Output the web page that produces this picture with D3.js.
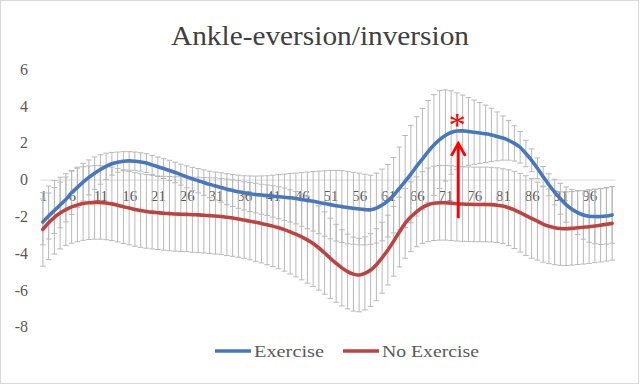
<!DOCTYPE html>
<html>
<head>
<meta charset="utf-8">
<script src="https://cdn.jsdelivr.net/npm/d3@7"></script>
<style>
    body { margin: 0; background: #fff; }
    .chart text { font-family: "Liberation Serif", "DejaVu Serif", serif; }
</style>
</head>
<body>
<div class="chart"></div>
<script>
// categories are the 100 time points of the cycle
var categories = d3.range(1, 101);
var xTickLabels = [1, 6, 11, 16, 21, 26, 31, 36, 41, 46, 51, 56, 61, 66, 71, 76, 81, 86, 91, 96];
var yTicks = [6, 4, 2, 0, -2, -4, -6, -8];
var seriesNames = ['Exercise', 'No Exercise'];

var exerciseMean = [
    -2.30, -1.98, -1.68, -1.38, -1.08, -0.72, -0.42, -0.14, 0.12, 0.35,
    0.55, 0.72, 0.86, 0.95, 1.00, 1.02, 1.00, 0.96, 0.90, 0.80,
    0.70, 0.60, 0.50, 0.39, 0.27, 0.15, 0.04, -0.06, -0.16, -0.26,
    -0.35, -0.43, -0.52, -0.59, -0.66, -0.72, -0.77, -0.81, -0.84, -0.87,
    -0.90, -0.93, -0.96, -0.99, -1.03, -1.08, -1.13, -1.18, -1.24, -1.30,
    -1.36, -1.42, -1.47, -1.52, -1.56, -1.60, -1.63, -1.64, -1.55, -1.38,
    -1.15, -0.85, -0.48, -0.10, 0.30, 0.72, 1.12, 1.52, 1.88, 2.18,
    2.40, 2.56, 2.64, 2.65, 2.62, 2.58, 2.54, 2.49, 2.43, 2.35,
    2.26, 2.14, 1.97, 1.76, 1.42, 1.05, 0.62, 0.16, -0.28, -0.68,
    -1.04, -1.36, -1.61, -1.79, -1.92, -1.99, -2.01, -2.01, -1.98, -1.92
];
var exerciseSd = [
    1.25, 1.25, 1.25, 1.24, 1.22, 1.18, 1.10, 1.02, 0.95, 0.88,
    0.80, 0.72, 0.62, 0.55, 0.52, 0.50, 0.50, 0.50, 0.51, 0.52,
    0.53, 0.54, 0.55, 0.56, 0.57, 0.60, 0.63, 0.66, 0.69, 0.72,
    0.76, 0.80, 0.84, 0.87, 0.90, 0.93, 0.97, 1.00, 1.04, 1.08,
    1.14, 1.20, 1.26, 1.32, 1.38, 1.46, 1.54, 1.62, 1.70, 1.78,
    1.86, 1.92, 1.96, 1.97, 1.96, 1.95, 1.92, 1.88, 1.90, 1.95,
    1.97, 2.05, 2.25, 2.50, 2.65, 2.70, 2.75, 2.78, 2.74, 2.66,
    2.48, 2.27, 2.08, 1.95, 1.84, 1.75, 1.66, 1.56, 1.45, 1.33,
    1.20, 1.08, 0.96, 0.86, 0.72, 0.62, 0.56, 0.55, 0.60, 0.70,
    0.84, 0.96, 1.08, 1.20, 1.32, 1.42, 1.48, 1.52, 1.53, 1.54
];
var noExerciseMean = [
    -2.71, -2.35, -2.05, -1.82, -1.63, -1.48, -1.38, -1.30, -1.26, -1.24,
    -1.24, -1.27, -1.32, -1.39, -1.47, -1.55, -1.62, -1.68, -1.73, -1.77,
    -1.80, -1.83, -1.85, -1.87, -1.88, -1.89, -1.91, -1.92, -1.94, -1.96,
    -1.98, -2.01, -2.05, -2.09, -2.14, -2.20, -2.26, -2.32, -2.39, -2.46,
    -2.53, -2.62, -2.72, -2.84, -2.97, -3.11, -3.28, -3.48, -3.72, -3.99,
    -4.28, -4.55, -4.80, -5.00, -5.14, -5.19, -5.10, -4.92, -4.63, -4.25,
    -3.83, -3.35, -2.85, -2.38, -2.02, -1.75, -1.52, -1.37, -1.29, -1.26,
    -1.26, -1.28, -1.31, -1.33, -1.34, -1.35, -1.35, -1.35, -1.36, -1.39,
    -1.44, -1.53, -1.65, -1.80, -1.96, -2.11, -2.26, -2.42, -2.54, -2.62,
    -2.66, -2.67, -2.65, -2.62, -2.59, -2.56, -2.52, -2.48, -2.43, -2.38
];
var noExerciseSd = [
    2.00, 2.00, 2.00, 1.95, 1.95, 1.98, 2.00, 2.00, 2.00, 2.00,
    2.00, 2.00, 2.00, 2.00, 2.00, 2.00, 2.00, 2.00, 2.00, 2.00,
    2.00, 2.01, 2.02, 2.02, 2.03, 2.03, 2.04, 2.05, 2.05, 2.06,
    2.07, 2.07, 2.08, 2.08, 2.08, 2.08, 2.10, 2.12, 2.14, 2.17,
    2.20, 2.23, 2.26, 2.29, 2.32, 2.34, 2.35, 2.33, 2.29, 2.24,
    2.18, 2.12, 2.07, 2.03, 2.01, 2.00, 1.99, 1.98, 1.96, 1.93,
    1.90, 1.90, 1.90, 1.90, 1.90, 1.90, 1.95, 2.00, 2.02, 2.03,
    2.03, 2.03, 2.03, 2.03, 2.03, 2.03, 2.03, 2.03, 2.03, 2.03,
    2.03, 2.06, 2.10, 2.14, 2.17, 2.17, 2.12, 2.07, 2.03, 2.01,
    2.00, 2.00, 2.00, 2.00, 2.00, 2.00, 2.00, 2.00, 2.00, 2.00
];

// significance marker: category position and the value span of the arrow
var markerCategory = 73.25;
var markerFrom = -2.1;
var markerTo = 1.97;

(function () {

    var chart = {

        width: 640,
        height: 385,

        plotLeft: 40,
        plotRight: 615,
        plotTop: 69.3,
        plotBottom: 326.7,

        font: '"Liberation Serif", "DejaVu Serif", serif',
        colors: ['#4677bf', '#be4340'],
        barColor: '#b8b8b8',
        textColor: '#595959',

        svg: null,
        x: null,
        y: null,

        // one error bar (line + two caps) per category
        drawErrorBars: function (mean, sd) {
            var x = this.x, y = this.y;
            var g = this.svg.append('g')
                .attr('stroke', this.barColor)
                .attr('stroke-width', 1)
                .attr('fill', 'none');

            var bars = g.selectAll('g')
                .data(categories)
                .enter().append('g');

            bars.append('line')
                .attr('x1', function (d) { return x(d); })
                .attr('x2', function (d) { return x(d); })
                .attr('y1', function (d, i) { return y(mean[i] - sd[i]); })
                .attr('y2', function (d, i) { return y(mean[i] + sd[i]); });

            bars.append('line')
                .attr('x1', function (d) { return x(d) - 2.8; })
                .attr('x2', function (d) { return x(d) + 2.8; })
                .attr('y1', function (d, i) { return y(mean[i] + sd[i]); })
                .attr('y2', function (d, i) { return y(mean[i] + sd[i]); });

            bars.append('line')
                .attr('x1', function (d) { return x(d) - 2.8; })
                .attr('x2', function (d) { return x(d) + 2.8; })
                .attr('y1', function (d, i) { return y(mean[i] - sd[i]); })
                .attr('y2', function (d, i) { return y(mean[i] - sd[i]); });
        },

        drawLine: function (mean, color) {
            var x = this.x, y = this.y;
            var line = d3.line()
                .x(function (d) { return x(d); })
                .y(function (d, i) { return y(mean[i]); })
                .curve(d3.curveCatmullRom.alpha(0.5));

            this.svg.append('path')
                .datum(categories)
                .attr('d', line)
                .attr('fill', 'none')
                .attr('stroke', color)
                .attr('stroke-width', 3.6)
                .attr('stroke-linejoin', 'round')
                .attr('stroke-linecap', 'round');
        },

        init: function () {
            var self = this;

            this.svg = d3.select('.chart').append('svg')
                .attr('width', this.width)
                .attr('height', this.height);

            // chart frame
            this.svg.append('rect')
                .attr('x', 0.5).attr('y', 0.5)
                .attr('width', this.width - 2).attr('height', this.height - 2)
                .attr('fill', '#fff')
                .attr('stroke', '#d9d9d9');

            this.x = d3.scaleLinear()
                .domain([0.5, categories.length + 0.5])
                .range([this.plotLeft, this.plotRight]);

            this.y = d3.scaleLinear()
                .domain([-8, 6])
                .range([this.plotBottom, this.plotTop]);

            // title
            this.svg.append('text')
                .attr('x', this.width / 2)
                .attr('y', 45)
                .attr('text-anchor', 'middle')
                .attr('font-family', this.font)
                .attr('font-size', 27)
                .attr('fill', '#404040')
                .attr('textLength', 298)
                .attr('lengthAdjust', 'spacingAndGlyphs')
                .text('Ankle-eversion/inversion');

            // value axis, labels only
            var yAxis = this.svg.append('g')
                .attr('transform', 'translate(' + this.plotLeft + ',0)')
                .call(d3.axisLeft(this.y).tickValues(yTicks).tickSize(0).tickPadding(12)
                    .tickFormat(function (d) { return d < 0 ? '-' + Math.abs(d) : d; }));
            yAxis.attr('font-family', this.font).attr('font-size', 16);
            yAxis.select('.domain').remove();
            yAxis.selectAll('text')
                .attr('fill', this.textColor);

            // category axis crosses at zero
            var xAxis = this.svg.append('g')
                .attr('transform', 'translate(0,' + this.y(0) + ')')
                .call(d3.axisBottom(this.x).tickValues(xTickLabels).tickSize(0).tickSizeOuter(0).tickPadding(11));
            xAxis.attr('font-family', this.font).attr('font-size', 15);
            xAxis.select('.domain').attr('stroke', '#d9d9d9');
            xAxis.selectAll('text')
                .attr('fill', this.textColor);

            this.drawErrorBars(exerciseMean, exerciseSd);
            this.drawErrorBars(noExerciseMean, noExerciseSd);
            this.drawLine(exerciseMean, this.colors[0]);
            this.drawLine(noExerciseMean, this.colors[1]);

            // arrow + asterisk
            var mx = this.x(markerCategory);
            var tip = this.y(markerTo);
            this.svg.append('line')
                .attr('x1', mx).attr('x2', mx)
                .attr('y1', this.y(markerFrom)).attr('y2', tip + 1)
                .attr('stroke', '#ff0000')
                .attr('stroke-width', 2.8);
            this.svg.append('path')
                .attr('d', 'M' + (mx - 7) + ',' + (tip + 12.5) + 'L' + mx + ',' + tip + 'L' + (mx + 7) + ',' + (tip + 12.5))
                .attr('fill', 'none')
                .attr('stroke', '#ff0000')
                .attr('stroke-width', 2.8);
            this.svg.append('text')
                .attr('x', mx - 1)
                .attr('y', tip - 7)
                .attr('text-anchor', 'middle')
                .attr('font-family', this.font)
                .attr('font-size', 34)
                .attr('fill', '#ff0000')
                .text('*');

            // legend
            var legendX = [215, 343];
            var legendLen = [70, 97];
            seriesNames.forEach(function (name, i) {
                self.svg.append('line')
                    .attr('x1', legendX[i]).attr('x2', legendX[i] + 36)
                    .attr('y1', 351).attr('y2', 351)
                    .attr('stroke', self.colors[i])
                    .attr('stroke-width', 3.6);
                self.svg.append('text')
                    .attr('x', legendX[i] + 39)
                    .attr('y', 357)
                    .attr('font-family', self.font)
                    .attr('font-size', 17.5)
                    .attr('fill', self.textColor)
                    .attr('textLength', legendLen[i])
                    .attr('lengthAdjust', 'spacingAndGlyphs')
                    .text(name);
            });
        }
    };

    chart.init();

}());
</script>
</body>
</html>
